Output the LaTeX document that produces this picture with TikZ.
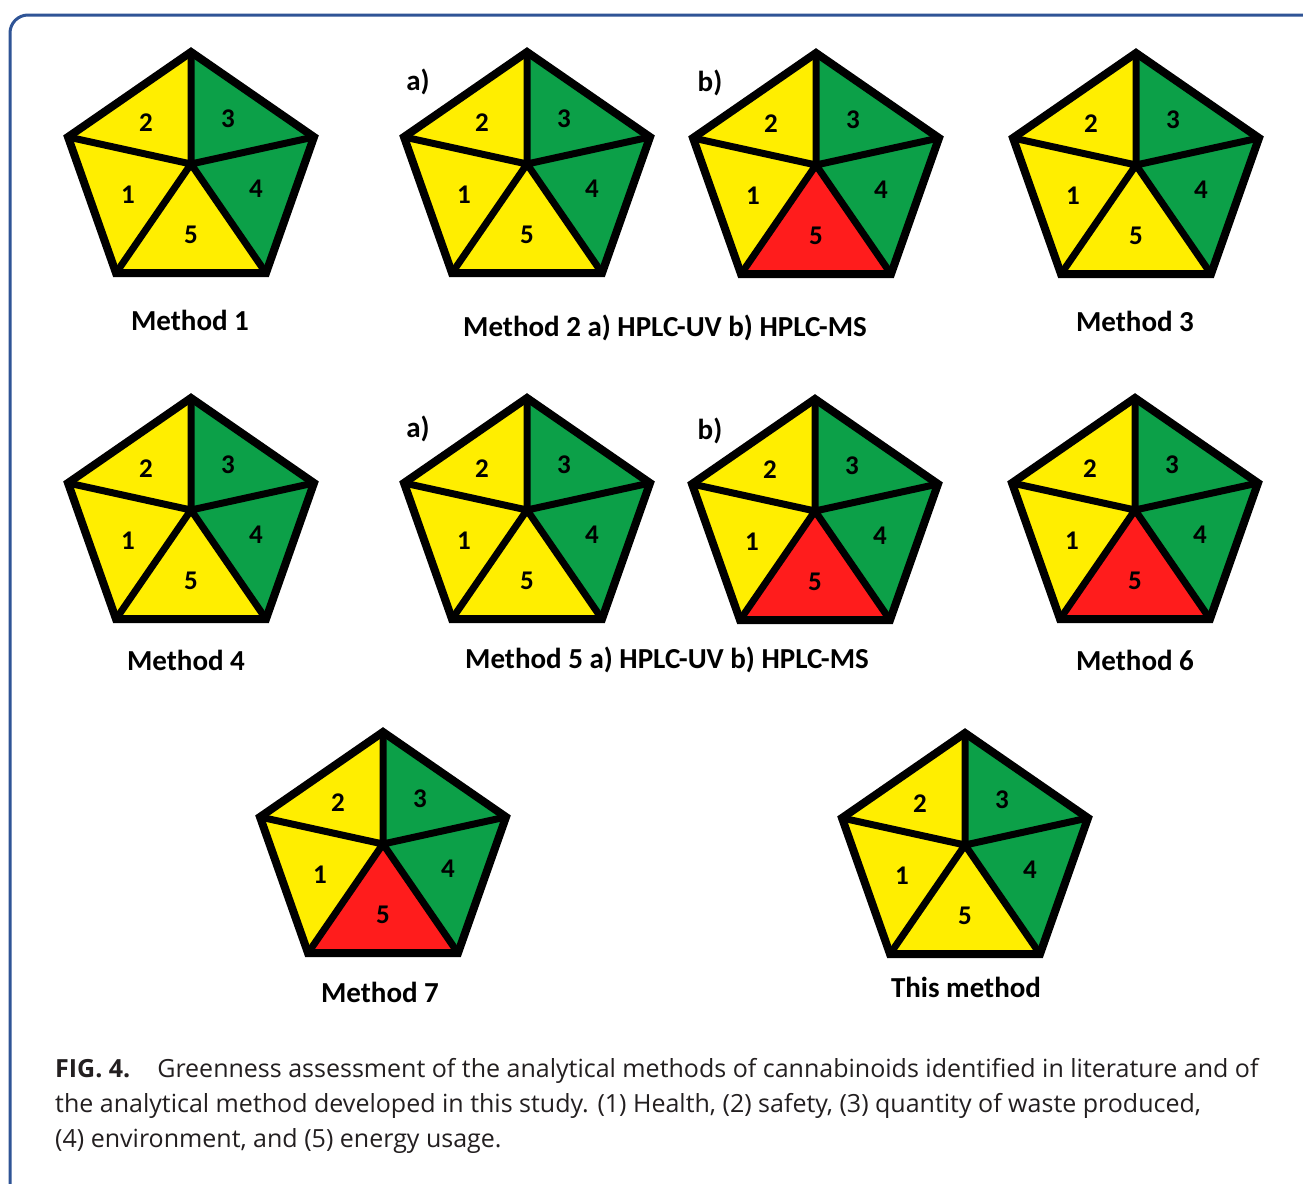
\documentclass[tikz,border=0pt]{standalone}
\usepackage{fontspec}
\setmainfont{Carlito}
\newfontfamily\capfont{Open Sans}
\definecolor{pyellow}{RGB}{255,238,0}
\definecolor{pgreen}{RGB}{12,160,72}
\definecolor{pred}{RGB}{255,28,28}
\definecolor{bordblue}{RGB}{47,84,150}
\definecolor{captext}{RGB}{35,31,32}
\tikzset{
  outerline/.style={line width=8pt, line join=miter, draw=black},
  innerline/.style={line width=7pt, line cap=round, draw=black},
  num/.style={font=\fontsize{27}{27}\selectfont\bfseries, inner sep=0pt, text=black},
  mlabel/.style={font=\fontsize{29}{29}\selectfont\bfseries, inner sep=0pt, text=black},
  caption/.style={font=\capfont\fontsize{25}{25}\selectfont, inner sep=0pt, anchor=base west, text=captext},
}
\newcommand{\drawpent}[4]{%
 \begin{scope}[shift={(#2,#3)}]
  \coordinate (#1T) at (0,0);
  \coordinate (#1UL) at (-123,85);
  \coordinate (#1UR) at (123,85);
  \coordinate (#1LL) at (-75,221);
  \coordinate (#1LR) at (75,221);
  \coordinate (#1C) at (0,112);
  \fill[pyellow] (#1T) -- (#1UL) -- (#1C) -- cycle;
  \fill[pgreen] (#1T) -- (#1UR) -- (#1C) -- cycle;
  \fill[pyellow] (#1UL) -- (#1LL) -- (#1C) -- cycle;
  \fill[pgreen] (#1UR) -- (#1LR) -- (#1C) -- cycle;
  \fill[#4] (#1LL) -- (#1LR) -- (#1C) -- cycle;
  \draw[innerline] (#1C) -- (#1T) (#1C) -- (#1UL) (#1C) -- (#1UR) (#1C) -- (#1LL) (#1C) -- (#1LR);
  \draw[outerline] (#1T) -- (#1UR) -- (#1LR) -- (#1LL) -- (#1UL) -- cycle;
  \node[num] (#1n2) at (-45,71) {2};
  \node[num] (#1n3) at (37,67) {3};
  \node[num] (#1n1) at (-63,143) {1};
  \node[num] (#1n4) at (65,137) {4};
  \node[num] (#1n5) at (0,183) {5};
 \end{scope}}
\begin{document}
\begin{tikzpicture}[x=1pt,y=-1pt]
\useasboundingbox (0,0) rectangle (1303,1183);
\clip (0,0) rectangle (1303,1183);
\fill[white] (0,0) rectangle (1303,1183);
\draw[bordblue, line width=3pt, rounded corners=18pt] (10,15) rectangle (1340,1220);
% row 1
\drawpent{mA}{191}{52}{pyellow}
\drawpent{mBa}{527}{52}{pyellow}
\drawpent{mBb}{816}{53}{pred}
\drawpent{mC}{1136}{53}{pyellow}
% row 2
\drawpent{mD}{191}{398}{pyellow}
\drawpent{mEa}{527}{398}{pyellow}
\drawpent{mEb}{815}{399}{pred}
\drawpent{mF}{1135}{398}{pred}
% row 3
\drawpent{mG}{383}{732}{pred}
\drawpent{mH}{965}{733}{pyellow}
% sub labels
\node[mlabel] (la1) at (418,82) {a)};
\node[mlabel] (lb1) at (710,83) {b)};
\node[mlabel] (la2) at (418,429) {a)};
\node[mlabel] (lb2) at (710,431) {b)};
% method labels
\node[mlabel] (t1) at (190,320) {Method 1};
\node[mlabel] (t2) at (665,328) {Method 2 a) HPLC-UV b) HPLC-MS};
\node[mlabel] (t3) at (1135,321) {Method 3};
\node[mlabel] (t4) at (186,660) {Method 4};
\node[mlabel] (t5) at (667,660) {Method 5 a) HPLC-UV b) HPLC-MS};
\node[mlabel] (t6) at (1135,660) {Method 6};
\node[mlabel] (t7) at (380,992) {Method 7};
\node[mlabel] (t8) at (966,987) {This method};
% caption
\node[caption] (c1) at (55,1077) {\textbf{FIG. 4.}\hspace{27pt}Greenness assessment of the analytical methods of cannabinoids identified in literature and of};
\node[caption] (c2) at (55,1112) {the analytical method developed in this study. (1) Health, (2) safety, (3) quantity of waste produced,};
\node[caption] (c3) at (55,1147) {(4) environment, and (5) energy usage.};
\end{tikzpicture}
\end{document}
